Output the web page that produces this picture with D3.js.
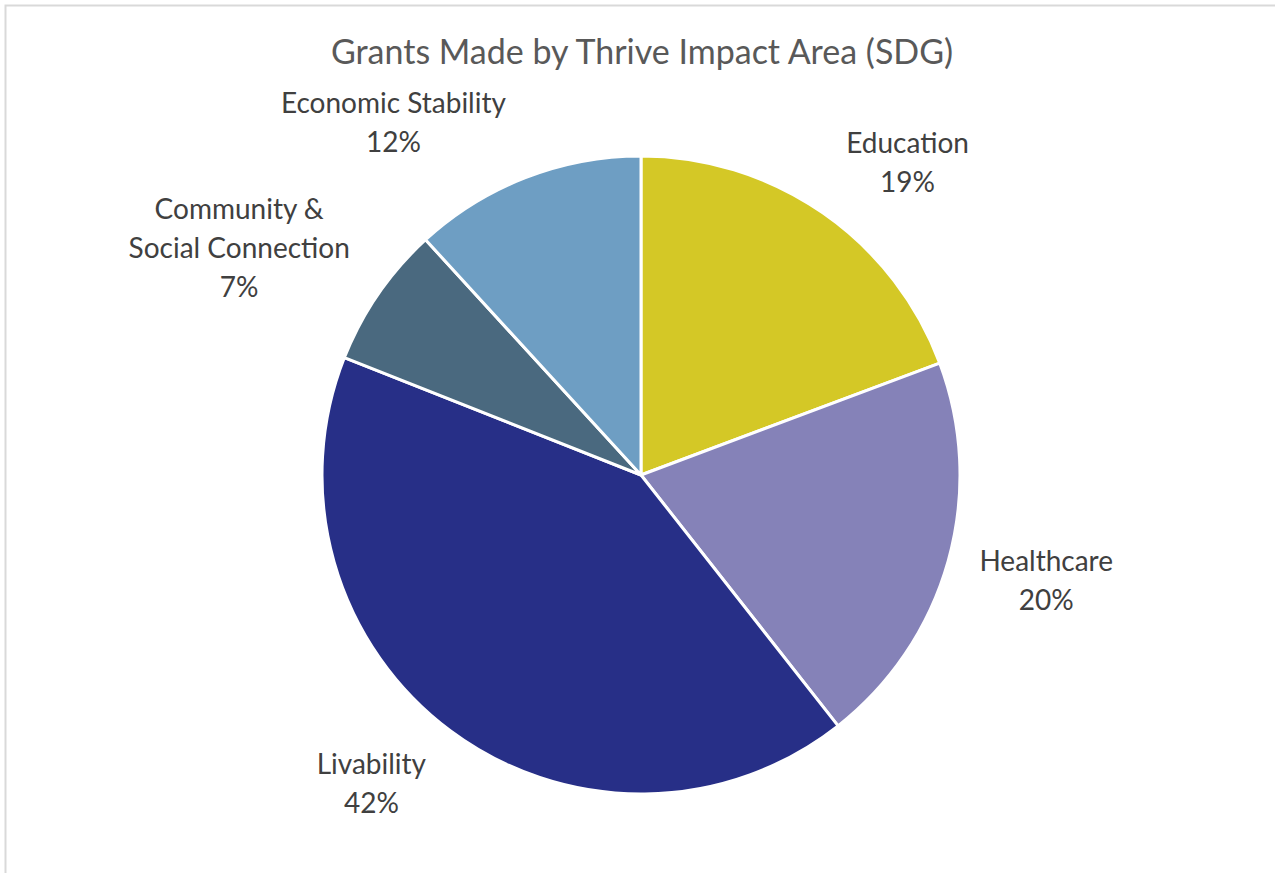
<!DOCTYPE html>
<html><head><meta charset="utf-8">
<script src="https://cdn.jsdelivr.net/npm/d3@7"></script>
<style>html,body{margin:0;padding:0;background:#fff;}svg{display:block;}</style>
</head><body>
<svg id="chart" width="1275" height="873"></svg>
<script>
const title = "Grants Made by Thrive Impact Area (SDG)";
const categories = ["Education", "Healthcare", "Livability", "Community & Social Connection", "Economic Stability"];
const labelLines = [["Education"], ["Healthcare"], ["Livability"], ["Community &", "Social Connection"], ["Economic Stability"]];
const values = [19.3, 20.1, 41.6, 7.2, 11.8];
const percentLabels = ["19%", "20%", "42%", "7%", "12%"];
const colors = ["#D4C826", "#8582B8", "#272F87", "#4A697F", "#6E9EC3"];

const W = 1275, H = 873;
const cx = 641, cy = 475, R = 319;
const svg = d3.select("#chart");
const font = "Lato, 'Open Sans', sans-serif";

svg.append("rect").attr("x", 5.5).attr("y", 5.5).attr("width", W + 10).attr("height", H + 10)
  .attr("fill", "#fff").attr("stroke", "#d9d9d9").attr("stroke-width", 2);

svg.append("text").attr("x", 642).attr("y", 64).attr("text-anchor", "middle")
  .attr("font-family", font).attr("font-size", 34).attr("fill", "#595959").text(title);

const data = categories.map((c, i) => ({cat: c, value: values[i], lines: labelLines[i], pct: percentLabels[i], color: colors[i]}));
const pie = d3.pie().value(d => d.value).sort(null);
const arcs = pie(data);
const arc = d3.arc().innerRadius(0).outerRadius(R);

const g = svg.append("g").attr("transform", `translate(${cx},${cy})`);
g.selectAll("path").data(arcs).join("path")
  .attr("d", arc).attr("fill", d => d.data.color)
  .attr("stroke", "#fff").attr("stroke-width", 3).attr("stroke-linejoin", "round");

const lineH = 39, fs = 28;
arcs.forEach(a => {
  const mid = (a.startAngle + a.endAngle) / 2;
  const s = Math.sin(mid), c = Math.cos(mid);
  const pr = R + 20;
  const px = pr * s, py = -pr * c;
  const lines = a.data.lines.concat([a.data.pct]);
  const t = g.append("text").attr("text-anchor", "middle")
    .attr("font-family", font).attr("font-size", fs).attr("fill", "#404040");
  lines.forEach((l, i) => t.append("tspan").attr("x", 0).attr("y", i * lineH).text(l));
  const bb = t.node().getBBox();
  const w = bb.width, h = lines.length * lineH;
  const sx = Math.max(-1, Math.min(1, s / 0.3));
  const sy = Math.max(-1, Math.min(1, -c / 0.9));
  const bx = px + sx * (w / 2 + 12);
  const by = py + sy * h / 2;
  t.attr("transform", `translate(${bx},${by - h / 2 + lineH * 0.68 + 5})`);
});
</script>
</body></html>
